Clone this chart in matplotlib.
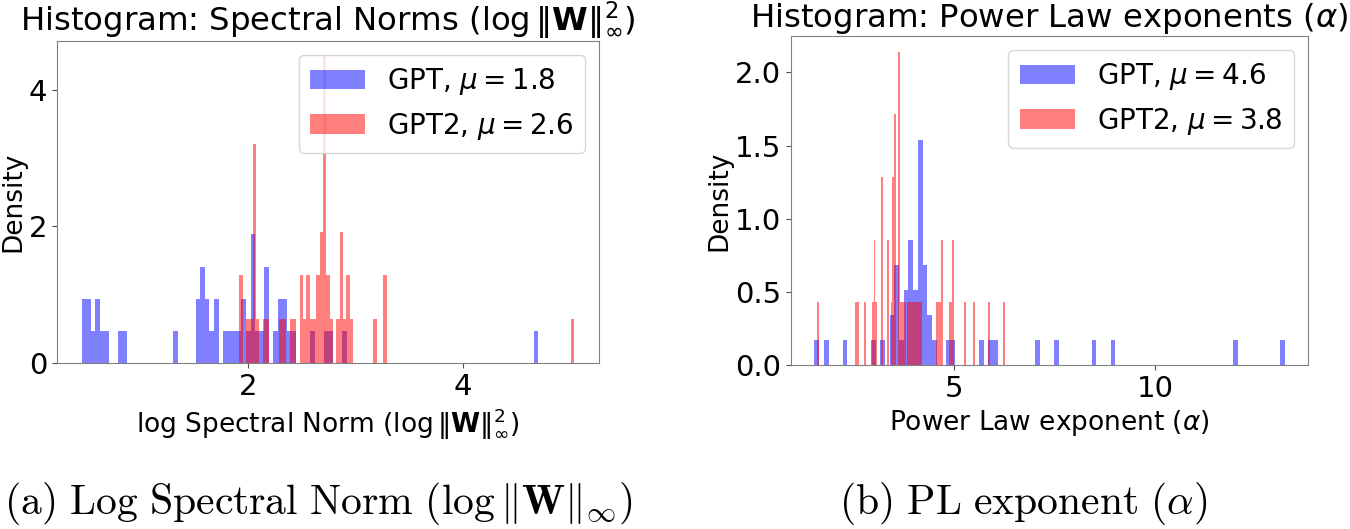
import matplotlib
matplotlib.use("Agg")
import matplotlib.pyplot as plt

# per-layer values (50 layers per model)
gpt_lognorm = [0.45, 0.47, 0.51, 0.52, 0.556, 0.59, 0.60, 0.64, 0.68, 0.81,
               0.85, 1.32, 1.53, 1.54, 1.57, 1.58, 1.585, 1.61, 1.62, 1.66,
               1.70, 1.71, 1.79, 1.83, 1.87, 1.92, 1.95, 1.96, 2.00, 2.04,
               2.045, 2.05, 2.055, 2.09, 2.13, 2.165, 2.17, 2.175, 2.26, 2.30,
               2.31, 2.34, 2.35, 2.38, 2.43, 2.60, 2.72, 2.77, 2.89, 4.70]
gpt2_lognorm = [1.917, 1.935, 1.995, 2.026, 2.05, 2.052, 2.055, 2.058, 2.062, 2.089,
                2.151, 2.182, 2.307, 2.338, 2.40, 2.431, 2.49, 2.50, 2.525, 2.55,
                2.56, 2.587, 2.619, 2.645, 2.655, 2.675, 2.68, 2.69, 2.70, 2.705,
                2.71, 2.712, 2.715, 2.72, 2.725, 2.74, 2.75, 2.774, 2.837, 2.86,
                2.868, 2.875, 2.899, 2.925, 2.935, 2.961, 3.18, 3.27, 3.28, 5.035]
gpt_alpha = [1.53, 1.82, 2.29, 2.99, 3.22, 3.44, 3.48, 3.53, 3.56, 3.59,
             3.62, 3.69, 3.78, 3.81, 3.84, 3.88, 3.90, 3.92, 3.95, 3.97,
             4.01, 4.04, 4.08, 4.11, 4.12, 4.13, 4.145, 4.16, 4.17, 4.185,
             4.20, 4.21, 4.24, 4.27, 4.30, 4.32, 4.37, 4.42, 4.51, 4.86,
             4.98, 5.68, 5.91, 6.03, 7.08, 7.55, 8.49, 8.95, 11.99, 13.22]
gpt2_alpha = [1.60, 2.557, 2.604, 2.79, 2.977, 3.015, 3.03, 3.07, 3.20, 3.21,
              3.22, 3.34, 3.36, 3.444, 3.48, 3.49, 3.50, 3.525, 3.535, 3.545,
              3.555, 3.615, 3.625, 3.63, 3.64, 3.65, 3.678, 3.725, 3.771, 3.865,
              3.912, 3.958, 4.005, 4.052, 4.098, 4.145, 4.192, 4.565, 4.612, 4.659,
              4.695, 4.715, 4.892, 4.939, 4.975, 4.995, 5.266, 5.499, 5.873, 6.27]

model_names = ["GPT", "GPT2"]
norm_means = [1.8, 2.6]
alpha_means = [4.6, 3.8]

fig = plt.figure(figsize=(13.5, 5.29), dpi=100)
ax1 = fig.add_axes([0.0422, 0.3138, 0.4015, 0.6087])
ax2 = fig.add_axes([0.5859, 0.3100, 0.3830, 0.6219])


def draw_panel(ax, blue_vals, red_vals, means, title, xlabel):
    ax.hist(blue_vals, bins=100, density=True, alpha=0.5, color="blue",
            label=r"%s, $\mu = %.1f$" % (model_names[0], means[0]))
    ax.hist(red_vals, bins=100, density=True, alpha=0.5, color="red",
            label=r"%s, $\mu = %.1f$" % (model_names[1], means[1]))
    ax.set_title(title, fontsize=23.3, pad=6)
    ax.set_xlabel(xlabel, fontsize=19)
    ax.set_ylabel("Density", fontsize=19, labelpad=2)
    ax.tick_params(labelsize=21, color="0.3")
    for s in ax.spines.values():
        s.set_color("0.5")
    ax.legend(fontsize=20, loc="upper right")


draw_panel(ax1, gpt_lognorm, gpt2_lognorm, norm_means,
           r"Histogram: Spectral Norms ($\log\|\mathbf{W}\|^2_\infty$)",
           r"log Spectral Norm ($\log\|\mathbf{W}\|^2_\infty$)")
ax1.set_xticks([2, 4])
ax1.set_yticks([0, 2, 4])

draw_panel(ax2, gpt_alpha, gpt2_alpha, alpha_means,
           r"Histogram: Power Law exponents ($\alpha$)",
           r"Power Law exponent ($\alpha$)")
ax2.set_xticks([5, 10])
ax2.set_yticks([0.0, 0.5, 1.0, 1.5, 2.0])

fig.text(0.236, 0.028, r"$\mathrm{(a)\ Log\ Spectral\ Norm\ (}\log\|\mathbf{W}\|_\infty\mathrm{)}$",
         fontsize=30, ha="center", va="baseline", math_fontfamily="cm")
fig.text(0.758, 0.028, r"$\mathrm{(b)\ PL\ exponent\ (}\alpha\mathrm{)}$",
         fontsize=30, ha="center", va="baseline", math_fontfamily="cm")

fig.savefig("out.png", dpi=100)
